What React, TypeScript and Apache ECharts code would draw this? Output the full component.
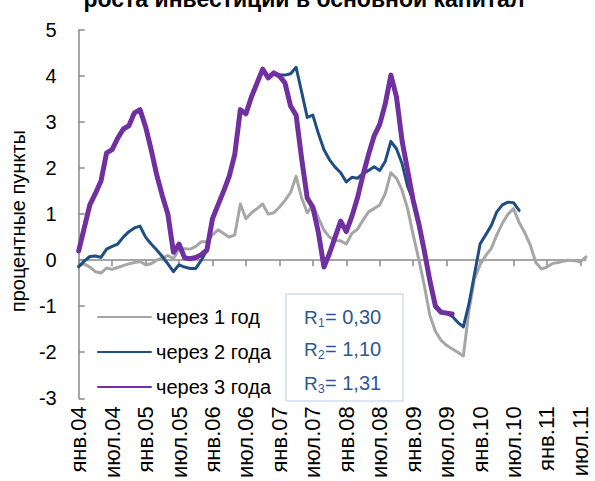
import React, { useEffect, useRef } from "react";
import * as echarts from "echarts";

const FONT = '"Liberation Sans", Arial, sans-serif';

const monthNames = ["янв", "фев", "мар", "апр", "май", "июн", "июл", "авг", "сен", "окт", "ноя", "дек"];
const yearLabels = ["04", "05", "06", "07", "08", "09", "10", "11"];
const monthCount = 92; // Jan 2004 .. Aug 2011

const categories: string[] = [];
for (let i = 0; i < monthCount; i++) {
  categories.push(monthNames[i % 12] + "." + yearLabels[Math.floor(i / 12)]);
}

const seriesNames = ["через 1 год", "через 2 года", "через 3 года"];

// через 1 год (gray)
const oneYear = [
  -0.12, -0.08, -0.15, -0.25, -0.28, -0.17, -0.2, -0.16, -0.12, -0.08, -0.05, -0.03,
  -0.1, -0.08, 0.0, 0.05, 0.1, 0.03, 0.25, 0.25, 0.24, 0.3, 0.4, 0.4,
  0.55, 0.66, 0.58, 0.5, 0.55, 1.22, 0.9, 1.03, 1.12, 1.22, 1.0, 1.03,
  1.15, 1.3, 1.47, 1.82, 1.35, 1.03, 1.2, 0.92, 0.65, 0.5, 0.43, 0.42,
  0.35, 0.58, 0.67, 0.87, 1.05, 1.12, 1.2, 1.45, 1.9, 1.78, 1.52, 1.12,
  0.55, 0.02, -0.55, -1.2, -1.55, -1.74, -1.85, -1.93, -2.0, -2.08, -1.1, -0.4,
  -0.1, 0.1, 0.25, 0.55, 0.8, 1.0, 1.12, 0.82, 0.6, 0.33, -0.05, -0.19,
  -0.15, -0.07, -0.05, -0.02, 0.0, -0.01, -0.04, 0.07,
];

// через 2 года (dark blue)
const twoYears = [
  -0.14, -0.02, 0.08, 0.09, 0.06, 0.24, 0.3, 0.35, 0.5, 0.62, 0.7, 0.74,
  0.5, 0.35, 0.22, 0.08, -0.08, -0.25, -0.1, -0.15, -0.18, -0.18, 0.0, 0.22,
  0.9, 1.2, 1.5, 1.82, 2.3, 3.27, 3.18, 3.55, 3.85, 4.15, 3.96, 4.07,
  4.02, 4.02, 4.05, 4.19, 3.65, 3.1, 3.15, 2.75, 2.4, 2.18, 2.02, 1.9,
  1.7, 1.8, 1.78, 1.88, 1.95, 2.03, 1.95, 2.15, 2.58, 2.42, 2.1, 1.6,
  1.3, 0.8, 0.2, -0.45, -1.0, -1.13, -1.15, -1.22, -1.35, -1.45, -0.95, -0.3,
  0.35, 0.55, 0.75, 1.05, 1.2, 1.26, 1.25, 1.08, null, null, null, null,
  null, null, null, null, null, null, null, null,
];

// через 3 года (purple)
const threeYears = [
  0.2, 0.7, 1.2, 1.45, 1.72, 2.33, 2.4, 2.65, 2.85, 2.92, 3.2, 3.27,
  2.9, 2.4, 1.85, 1.4, 1.0, 0.17, 0.35, 0.05, 0.03, 0.06, 0.12, 0.22,
  0.9, 1.2, 1.5, 1.82, 2.3, 3.27, 3.18, 3.55, 3.85, 4.15, 3.96, 4.07,
  4.0, 3.85, 3.35, 3.15, 2.2, 1.35, 1.15, 0.6, -0.15, 0.15, 0.5, 0.85,
  0.62, 0.95, 1.35, 1.85, 2.3, 2.7, 2.95, 3.4, 4.02, 3.55, 2.6, 1.95,
  1.3, 0.8, 0.2, -0.45, -1.0, -1.13, -1.15, -1.17, null, null, null, null,
  null, null, null, null, null, null, null, null, null, null, null, null,
  null, null, null, null, null, null, null, null,
];

const rLabels = ["R", "R", "R"];
const rSubs = ["1", "2", "3"];
const rValues = ["= 0,30", "= 1,10", "= 1,31"];

const titleText = "роста инвестиций в основной капитал";
const yAxisName = "процентные пункты";

const colors = ["#A6A6A6", "#1F4E82", "#7030A0"];
const widths = [3, 3, 5];
const axisColor = "#888888";
const rColor = "#2B5797";

export default function App() {
  const ref = useRef<HTMLDivElement>(null);

  useEffect(() => {
    if (!ref.current) return;
    const chart = echarts.init(ref.current, undefined, { renderer: "svg" });

    const rowY = [317, 349, 383];
    const rGraphics: any[] = [];
    rowY.forEach((y, i) => {
      rGraphics.push({
        type: "text",
        x: 304,
        y,
        z: 10,
        style: { text: rLabels[i], font: `19px ${FONT}`, fill: rColor, align: "left", verticalAlign: "middle" },
      });
      rGraphics.push({
        type: "text",
        x: 318,
        y: y + 6,
        z: 10,
        style: { text: rSubs[i], font: `12px ${FONT}`, fill: rColor, align: "left", verticalAlign: "middle" },
      });
      rGraphics.push({
        type: "text",
        x: 325,
        y,
        z: 10,
        style: { text: rValues[i], font: `20px ${FONT}`, fill: rColor, align: "left", verticalAlign: "middle" },
      });
    });

    const option: any = {
      animation: false,
      textStyle: { fontFamily: FONT },
      grid: { left: 76, right: 9, top: 30, bottom: 81, containLabel: false },
      xAxis: [
        {
          type: "category",
          data: categories,
          boundaryGap: false,
          position: "bottom",
          axisLine: { show: false, onZero: false },
          axisTick: { show: false },
          splitLine: { show: false },
          axisLabel: { interval: 5, rotate: 90, fontSize: 22, color: "#000", fontFamily: FONT, margin: 8 },
        },
        {
          type: "category",
          data: categories,
          boundaryGap: false,
          position: "bottom",
          axisLine: { show: true, onZero: true, lineStyle: { color: axisColor, width: 1.5 } },
          axisTick: { show: true, interval: 5, length: 6, lineStyle: { color: axisColor, width: 1.5 } },
          splitLine: { show: false },
          axisLabel: { show: false },
        },
      ],
      yAxis: {
        type: "value",
        min: -3,
        max: 5,
        interval: 1,
        axisLine: { show: true, lineStyle: { color: axisColor, width: 1.5 } },
        axisTick: { show: true, inside: true, length: 6, lineStyle: { color: axisColor, width: 1.5 } },
        splitLine: { show: false },
        axisLabel: { fontSize: 20, color: "#000", margin: 22, fontFamily: FONT },
        name: yAxisName,
        nameLocation: "middle",
        nameGap: 48,
        nameTextStyle: { fontSize: 20, color: "#000", fontFamily: FONT, padding: [0, 14, 0, 0] },
      },
      legend: {
        orient: "vertical",
        left: 97,
        top: 306,
        itemWidth: 53,
        itemHeight: 14,
        itemGap: 13,
        padding: 0,
        itemStyle: { opacity: 0 },
        textStyle: { fontSize: 20, color: "#000", lineHeight: 22, fontFamily: FONT },
        data: seriesNames,
      },
      graphic: [
        {
          type: "text",
          x: 304,
          y: 10,
          style: {
            text: titleText,
            font: `bold 23px ${FONT}`,
            fill: "#000",
            align: "center",
            verticalAlign: "bottom",
          },
        },
        {
          type: "rect",
          z: 9,
          shape: { x: 286, y: 294, width: 117, height: 107 },
          style: { fill: "#ffffff", stroke: "#B9CDE5", lineWidth: 1 },
        },
        ...rGraphics,
      ],
      series: [oneYear, twoYears, threeYears].map((d, i) => ({
        name: seriesNames[i],
        type: "line",
        xAxisIndex: 0,
        data: d,
        symbol: "none",
        showSymbol: false,
        connectNulls: false,
        lineStyle: { color: colors[i], width: widths[i], join: "round", cap: "round" },
        itemStyle: { color: colors[i] },
        z: 2 + i,
      })),
    };

    chart.setOption(option);
    return () => chart.dispose();
  }, []);

  return (
    <div
      ref={ref}
      style={{ position: "absolute", left: 0, top: 0, width: 595, height: 481, background: "#fff" }}
    />
  );
}
